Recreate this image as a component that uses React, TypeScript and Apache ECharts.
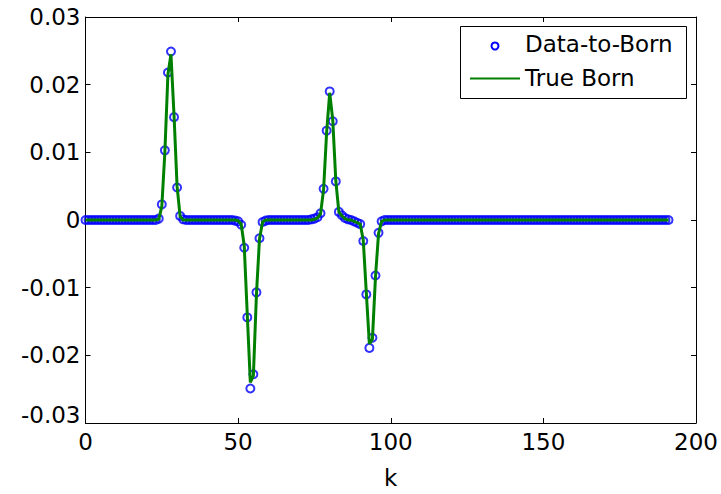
import React, { useEffect, useRef } from "react";
import * as echarts from "echarts";

// Data-to-Born samples, k = 0 .. 191 (index = k)
const dataToBorn: number[] = [
  0, 0, 0, 0, 0, 0, 0, 0, 0, 0, 0, 0, 0, 0, 0, 0,
  0, 0, 0, 0, 0, 0, 0, 0, 0.0002, 0.0023, 0.0103, 0.0218, 0.0249, 0.0152, 0.0048, 0.0006,
  0.0001, 0, 0, 0, 0, 0, 0, 0, 0, 0, 0, 0, 0, 0, 0, 0,
  0, -0.0001, -0.0002, -0.0007, -0.0041, -0.0144, -0.0249, -0.0228, -0.0107, -0.0027, -0.0003, -0.0001, 0, 0, 0, 0,
  0, 0, 0, 0, 0, 0, 0, 0, 0, 0, 0.0001, 0.0002, 0.0004, 0.0010, 0.0046, 0.0132,
  0.0190, 0.0146, 0.0057, 0.0012, 0.0007, 0.0003, 0.0001, 0, -0.0002, -0.0004, -0.0006, -0.0031, -0.0110, -0.0189, -0.0174, -0.0082,
  -0.0019, -0.0002, 0, 0, 0, 0, 0, 0, 0, 0, 0, 0, 0, 0, 0, 0,
  0, 0, 0, 0, 0, 0, 0, 0, 0, 0, 0, 0, 0, 0, 0, 0,
  0, 0, 0, 0, 0, 0, 0, 0, 0, 0, 0, 0, 0, 0, 0, 0,
  0, 0, 0, 0, 0, 0, 0, 0, 0, 0, 0, 0, 0, 0, 0, 0,
  0, 0, 0, 0, 0, 0, 0, 0, 0, 0, 0, 0, 0, 0, 0, 0,
  0, 0, 0, 0, 0, 0, 0, 0, 0, 0, 0, 0, 0, 0, 0, 0,
];

// True Born reflectivity, k = 0 .. 191
const trueBorn: number[] = [
  0, 0, 0, 0, 0, 0, 0, 0, 0, 0, 0, 0, 0, 0, 0, 0,
  0, 0, 0, 0, 0, 0, 0, 0, 0.0001, 0.0020, 0.0100, 0.0215, 0.0245, 0.0155, 0.0050, 0.0005,
  0, 0, 0, 0, 0, 0, 0, 0, 0, 0, 0, 0, 0, 0, 0, 0,
  0, 0, -0.0001, -0.0006, -0.0038, -0.0140, -0.0240, -0.0230, -0.0110, -0.0028, -0.0003, 0, 0, 0, 0, 0,
  0, 0, 0, 0, 0, 0, 0, 0, 0, 0, 0, 0.0001, 0.0003, 0.0009, 0.0045, 0.0130,
  0.0188, 0.0148, 0.0058, 0.0012, 0.0006, 0.0002, 0, 0, -0.0002, -0.0004, -0.0006, -0.0030, -0.0108, -0.0183, -0.0176, -0.0084,
  -0.0020, -0.0002, 0, 0, 0, 0, 0, 0, 0, 0, 0, 0, 0, 0, 0, 0,
  0, 0, 0, 0, 0, 0, 0, 0, 0, 0, 0, 0, 0, 0, 0, 0,
  0, 0, 0, 0, 0, 0, 0, 0, 0, 0, 0, 0, 0, 0, 0, 0,
  0, 0, 0, 0, 0, 0, 0, 0, 0, 0, 0, 0, 0, 0, 0, 0,
  0, 0, 0, 0, 0, 0, 0, 0, 0, 0, 0, 0, 0, 0, 0, 0,
  0, 0, 0, 0, 0, 0, 0, 0, 0, 0, 0, 0, 0, 0, 0, 0,
];

const seriesNames = ["Data-to-Born", "True Born"];
const xLabel = "k";

const FONT = "DejaVu Sans";
const L = 85.5, R = 696, T = 17, B = 430;

export default function App() {
  const ref = useRef<HTMLDivElement>(null);
  useEffect(() => {
    document.body.style.margin = "0";
    const chart = echarts.init(ref.current!, undefined, { renderer: "svg" });
    const fmtY = (v: number) => (Math.abs(v) < 1e-9 ? "0" : v.toFixed(2));
    const fmtX = (v: number) => String(Math.round(v));
    const axisCommon = {
      axisLine: { show: true, onZero: false, lineStyle: { color: "#000", width: 1 } },
      axisTick: { show: true, inside: true, length: 5, lineStyle: { color: "#000", width: 1 } },
      splitLine: { show: false },
    };
    chart.setOption({
      animation: false,
      backgroundColor: "#fff",
      grid: { left: L, right: 721 - R, top: T, bottom: 494 - B, containLabel: false },
      xAxis: [
        {
          type: "value", min: 0, max: 200, interval: 50, position: "bottom",
          ...axisCommon,
          axisLabel: { color: "#000", fontSize: 23, fontFamily: FONT, margin: 7, formatter: fmtX },
          name: xLabel, nameLocation: "middle", nameGap: 43,
          nameTextStyle: { color: "#000", fontSize: 23, fontFamily: FONT },
        },
        {
          type: "value", min: 0, max: 200, interval: 50, position: "top",
          ...axisCommon, axisLabel: { show: false },
        },
      ],
      yAxis: [
        {
          type: "value", min: -0.03, max: 0.03, interval: 0.01, position: "left",
          ...axisCommon,
          axisLabel: {
            color: "#000", fontSize: 23, fontFamily: FONT, margin: 5,
            formatter: (v: number) => (v < -0.0295 ? "{low|" + fmtY(v) + "}" : fmtY(v)),
            rich: { low: { fontSize: 23, fontFamily: FONT, color: "#000", padding: [0, 0, 16, 0] } },
          },
        },
        {
          type: "value", min: -0.03, max: 0.03, interval: 0.01, position: "right",
          ...axisCommon, axisLabel: { show: false },
        },
      ],
      series: [
        {
          name: seriesNames[0], type: "scatter",
          data: dataToBorn.map((v, i) => [i, v]),
          symbol: "circle", symbolSize: 8,
          itemStyle: { color: "rgba(0,0,0,0)", borderColor: "#0000ff", borderWidth: 2 },
          z: 2,
        },
        {
          name: seriesNames[1], type: "line",
          data: trueBorn.map((v, i) => [i, v]),
          showSymbol: false, symbol: "none",
          lineStyle: { color: "#008000", width: 3 },
          z: 3,
        },
      ],
      graphic: [
        {
          type: "group", z: 100,
          children: [
            { type: "rect", shape: { x: 460.5, y: 26.5, width: 226, height: 72 }, style: { fill: "#fff", stroke: "#000", lineWidth: 1 } },
            { type: "circle", shape: { cx: 495, cy: 46, r: 3.5 }, style: { fill: "none", stroke: "#0000ff", lineWidth: 2 } },
            { type: "text", x: 525, y: 44, style: { text: seriesNames[0], fill: "#000", font: `23px '${FONT}'`, verticalAlign: "middle", align: "left" } },
            { type: "line", shape: { x1: 470, y1: 78.5, x2: 520, y2: 78.5 }, style: { stroke: "#008000", lineWidth: 2 } },
            { type: "text", x: 525, y: 78, style: { text: seriesNames[1], fill: "#000", font: `23px '${FONT}'`, verticalAlign: "middle", align: "left" } },
          ],
        },
      ],
    });
    return () => chart.dispose();
  }, []);
  return <div ref={ref} style={{ position: "fixed", left: 0, top: 0, width: 721, height: 494 }} />;
}
